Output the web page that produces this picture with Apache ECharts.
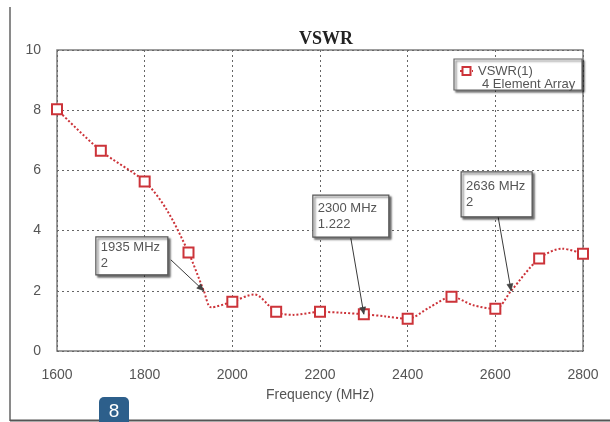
<!DOCTYPE html>
<html>
<head>
<meta charset="utf-8">
<script src="https://cdn.jsdelivr.net/npm/echarts@6/dist/echarts.min.js"></script>
<style>
  html, body { margin: 0; padding: 0; background: #ffffff; }
  #chart { width: 610px; height: 422px; }
</style>
</head>
<body>
<div id="chart"></div>
<script>
// Measured VSWR at 100 MHz steps (drawn with markers)
const markerFreq = [1600, 1700, 1800, 1900, 2000, 2100, 2200, 2300, 2400, 2500, 2600, 2700, 2800];
const markerVswr = [8.03, 6.65, 5.63, 3.27, 1.64, 1.30, 1.30, 1.222, 1.07, 1.80, 1.40, 3.07, 3.23];

// Intermediate sweep samples (trace only, no marker)
const sweepFreq = [1850, 1935, 1952, 2050, 2140, 2250, 2350, 2450, 2550, 2636, 2752];
const sweepVswr = [4.70, 2.00, 1.45, 1.88, 1.20, 1.27, 1.15, 1.45, 1.52, 2.00, 3.40];

// Data-cursor readouts
const cursorFreq = [1935, 2300, 2636];
const cursorVswr = [2, 1.222, 2];

// Axis ticks
const xTicks = [1600, 1800, 2000, 2200, 2400, 2600, 2800];
const yTicks = [0, 2, 4, 6, 8, 10];

const seriesName = 'VSWR(1)';
const seriesSub = '4 Element Array';
const lineRed = '#cc3339';

// merge marker samples and sweep samples into one ordered trace
const trace = [];
markerFreq.forEach((f, i) => trace.push({ value: [f, markerVswr[i]], symbol: 'rect', symbolSize: 10 }));
sweepFreq.forEach((f, i) => trace.push({ value: [f, sweepVswr[i]], symbol: 'none' }));
trace.sort((a, b) => a.value[0] - b.value[0]);

const font = 'Liberation Sans, Arial, sans-serif';

const chart = echarts.init(document.getElementById('chart'), null, { renderer: 'canvas' });

chart.setOption({
  animation: false,
  backgroundColor: '#ffffff',
  title: {
    text: 'VSWR',
    left: 294,
    top: 25,
    textStyle: { fontFamily: 'Liberation Serif, Times New Roman, serif', fontWeight: 'bold', fontSize: 18, color: '#222' }
  },
  grid: {
    left: 57, right: 27, top: 50, bottom: 71,
    show: true, borderColor: '#7d7d7d', borderWidth: 1.5, backgroundColor: '#ffffff'
  },
  xAxis: {
    type: 'value',
    min: xTicks[0], max: xTicks[xTicks.length - 1], interval: xTicks[1] - xTicks[0],
    name: 'Frequency (MHz)',
    nameLocation: 'middle',
    nameGap: 37,
    nameTextStyle: { fontFamily: font, fontSize: 14, color: '#555' },
    axisLine: { show: false },
    axisTick: { show: false },
    axisLabel: { margin: 17, fontFamily: font, fontSize: 14, color: '#555', formatter: v => String(v) },
    splitLine: { show: true, lineStyle: { type: [2, 3], color: '#666', width: 1 } }
  },
  yAxis: {
    type: 'value',
    min: yTicks[0], max: yTicks[yTicks.length - 1], interval: yTicks[1] - yTicks[0],
    axisLine: { show: false },
    axisTick: { show: false },
    axisLabel: { margin: 16, fontFamily: font, fontSize: 14, color: '#555', formatter: v => String(v) },
    splitLine: { show: true, lineStyle: { type: [2, 3], color: '#666', width: 1 } }
  },
  series: [{
    name: seriesName,
    type: 'line',
    data: trace,
    smooth: 0.3,
    showSymbol: true,
    symbol: 'rect',
    symbolSize: 10,
    lineStyle: { color: lineRed, width: 2, type: [2, 2] },
    itemStyle: { color: '#ffffff', borderColor: lineRed, borderWidth: 2 },
    z: 3
  }]
});

// Data-cursor boxes with leader lines, tips placed through the axis scales
function cursorGraphics() {
  const boxes = [
    { dx: -108, dy: -54, w: 72, h: 38, sx: -33, sy: -31 },
    { dx: -51, dy: -119, w: 76, h: 42, sx: -13, sy: -76 },
    { dx: -50, dy: -119, w: 71, h: 45, sx: -13, sy: -74 }
  ];
  const out = [];
  cursorFreq.forEach((f, i) => {
    const p = chart.convertToPixel({ gridIndex: 0 }, [f, cursorVswr[i]]);
    const b = boxes[i];
    const x0 = p[0] + b.dx, y0 = p[1] + b.dy;
    const sx = p[0] + b.sx, sy = p[1] + b.sy;
    // leader line
    out.push({ type: 'line', z: 20, shape: { x1: sx, y1: sy, x2: p[0], y2: p[1] },
      style: { stroke: '#3a3a3a', lineWidth: 1 } });
    // arrow head at the tip
    const vx = p[0] - sx, vy = p[1] - sy, len = Math.hypot(vx, vy);
    const ux = vx / len, uy = vy / len, L = 7, W = 3;
    const bx = p[0] - ux * L, by = p[1] - uy * L;
    out.push({ type: 'polygon', z: 21, shape: { points: [[p[0], p[1]], [bx - uy * W, by + ux * W], [bx + uy * W, by - ux * W]] },
      style: { fill: '#444', stroke: '#333', lineWidth: 0.5 } });
    // box
    out.push({ type: 'rect', z: 22, shape: { x: x0, y: y0, width: b.w, height: b.h },
      style: { fill: '#ffffff', stroke: '#555', lineWidth: 1.2,
        shadowColor: 'rgba(0,0,0,0.55)', shadowBlur: 2, shadowOffsetX: 2, shadowOffsetY: 2 } });
    out.push({ type: 'text', z: 23, x: x0 + 5, y: y0 + b.h / 2,
      style: { text: f + ' MHz\n' + cursorVswr[i], font: '13px ' + font, fill: '#555',
        lineHeight: 16, verticalAlign: 'middle', align: 'left' } });
  });
  return out;
}

function legendGraphics() {
  return [
    { type: 'rect', z: 22, shape: { x: 454, y: 59, width: 128, height: 31 },
      style: { fill: '#ffffff', stroke: '#666', lineWidth: 1.2,
        shadowColor: 'rgba(0,0,0,0.55)', shadowBlur: 2, shadowOffsetX: 2, shadowOffsetY: 2 } },
    { type: 'line', z: 23, shape: { x1: 460, y1: 71, x2: 473, y2: 71 },
      style: { stroke: lineRed, lineWidth: 2, lineDash: [2, 2] } },
    { type: 'rect', z: 24, shape: { x: 462.5, y: 67, width: 8, height: 8 },
      style: { fill: '#ffffff', stroke: lineRed, lineWidth: 2 } },
    { type: 'text', z: 23, x: 478, y: 71,
      style: { text: seriesName, font: '13px ' + font, fill: '#555', verticalAlign: 'middle' } },
    { type: 'text', z: 23, x: 482, y: 84,
      style: { text: seriesSub, font: '13px ' + font, fill: '#555', verticalAlign: 'middle' } }
  ];
}

function pageGraphics() {
  return [
    { type: 'line', z: 1, shape: { x1: 10, y1: 7, x2: 10, y2: 421 }, style: { stroke: '#8a8a8a', lineWidth: 2 } },
    { type: 'line', z: 1, shape: { x1: 10, y1: 420.5, x2: 610, y2: 420.5 }, style: { stroke: '#555', lineWidth: 2 } },
    { type: 'rect', z: 30, shape: { x: 99, y: 397, width: 30, height: 26, r: [5, 5, 0, 0] },
      style: { fill: '#2d5f8b' } },
    { type: 'text', z: 31, x: 114, y: 412,
      style: { text: '8', font: '19px ' + font, fill: '#ffffff', align: 'center', verticalAlign: 'middle' } }
  ];
}

chart.setOption({ graphic: [].concat(cursorGraphics(), legendGraphics(), pageGraphics()) });
</script>
</body>
</html>
